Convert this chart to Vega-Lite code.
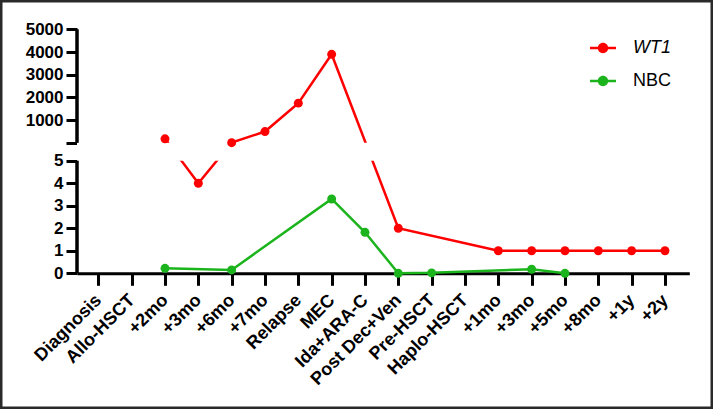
{
  "$schema": "https://vega.github.io/schema/vega-lite/v6.json",
  "width": 713,
  "height": 409,
  "autosize": {"type": "none"},
  "padding": 0,
  "background": "white",
  "config": {
    "view": {"stroke": "#2a2a2a", "strokeWidth": 5},
    "font": "Liberation Sans",
    "axis": {"grid": false}
  },
  "data": {
    "values": [
      {"series": "WT1", "i": 3, "timepoint": "+2mo", "v": 180},
      {"series": "WT1", "i": 4, "timepoint": "+3mo", "v": 4},
      {"series": "WT1", "i": 5, "timepoint": "+6mo", "v": 10},
      {"series": "WT1", "i": 6, "timepoint": "+7mo", "v": 500},
      {"series": "WT1", "i": 7, "timepoint": "Relapse", "v": 1750},
      {"series": "WT1", "i": 8, "timepoint": "MEC", "v": 3900},
      {"series": "WT1", "i": 10, "timepoint": "Post Dec+Ven", "v": 2},
      {"series": "WT1", "i": 13, "timepoint": "+1mo", "v": 1},
      {"series": "WT1", "i": 14, "timepoint": "+3mo", "v": 1},
      {"series": "WT1", "i": 15, "timepoint": "+5mo", "v": 1},
      {"series": "WT1", "i": 16, "timepoint": "+8mo", "v": 1},
      {"series": "WT1", "i": 17, "timepoint": "+1y", "v": 1},
      {"series": "WT1", "i": 18, "timepoint": "+2y", "v": 1},
      {"series": "NBC", "i": 3, "timepoint": "+2mo", "v": 0.22},
      {"series": "NBC", "i": 5, "timepoint": "+6mo", "v": 0.15},
      {"series": "NBC", "i": 8, "timepoint": "MEC", "v": 3.3},
      {"series": "NBC", "i": 9, "timepoint": "Ida+ARA-C", "v": 1.82},
      {"series": "NBC", "i": 10, "timepoint": "Post Dec+Ven", "v": 0},
      {"series": "NBC", "i": 11, "timepoint": "Pre-HSCT", "v": 0.02},
      {"series": "NBC", "i": 14, "timepoint": "+3mo", "v": 0.18},
      {"series": "NBC", "i": 15, "timepoint": "+5mo", "v": 0}
    ]
  },
  "layer": [
    {
      "mark": {"type": "line", "strokeWidth": 2.5},
      "encoding": {
        "x": {
          "field": "i",
          "type": "quantitative",
          "scale": {"domain": [0.36, 18.73], "range": [77, 689.3], "nice": false, "zero": false},
          "axis": {
            "title": null,
            "offset": -135.7,
            "values": [1, 2, 3, 4, 5, 6, 7, 8, 9, 10, 11, 12, 13, 14, 15, 16, 17, 18],
            "tickCount": 100,
            "labelExpr": "['Diagnosis','Allo-HSCT','+2mo','+3mo','+6mo','+7mo','Relapse','MEC','Ida+ARA-C','Post Dec+Ven','Pre-HSCT','Haplo-HSCT','+1mo','+3mo','+5mo','+8mo','+1y','+2y'][datum.value - 1]",
            "labelAngle": -45,
            "labelAlign": "right",
            "labelBaseline": "middle",
            "labelOverlap": false,
            "labelFlush": false,
            "labelBound": false,
            "labelFontSize": 18,
            "labelFontWeight": "bold",
            "labelColor": "black",
            "labelPadding": 12,
            "tickSize": 12,
            "tickWidth": 3,
            "tickColor": "black",
            "domainWidth": 3,
            "domainColor": "black"
          }
        },
        "y": {
          "field": "v",
          "type": "quantitative",
          "scale": {"domain": [0, 5, 5.01, 5000], "range": [273.3, 160.7, 142.8, 29.3], "nice": false, "zero": false},
          "axis": {
            "title": null,
            "offset": -77,
            "domain": false,
            "values": [0, 1, 2, 3, 4, 5, 5.01, 1000, 2000, 3000, 4000, 5000],
            "tickCount": 100,
            "labelExpr": "datum.value > 5 && datum.value < 6 ? '' : format(datum.value, 'd')",
            "labelOverlap": false,
            "labelFlush": false,
            "labelBound": false,
            "labelFontSize": 17,
            "labelFontWeight": "bold",
            "labelColor": "black",
            "labelPadding": 3,
            "tickSize": 11,
            "tickWidth": 3,
            "tickColor": "black"
          }
        },
        "stroke": {
          "field": "series",
          "type": "nominal",
          "scale": {"domain": ["NBC", "WT1"], "range": ["#1cb41c", "#ff0000"]},
          "legend": null
        }
      }
    },
    {
      "data": {"values": [{}]},
      "mark": {"type": "rect", "fill": "white"},
      "encoding": {
        "x": {"datum": 0.36, "type": "quantitative"},
        "x2": {"datum": 18.73},
        "y": {"datum": 5, "type": "quantitative"},
        "y2": {"datum": 5.01}
      }
    },
    {
      "mark": {"type": "point", "filled": true, "size": 80, "opacity": 1, "shape": "circle"},
      "encoding": {
        "x": {"field": "i", "type": "quantitative"},
        "y": {"field": "v", "type": "quantitative"},
        "color": {
          "field": "series",
          "type": "nominal",
          "scale": {"domain": ["WT1", "NBC"], "range": ["#ff0000", "#1cb41c"]},
          "legend": {
            "title": null,
            "orient": "none",
            "legendX": 590,
            "legendY": 35,
            "padding": 0,
            "symbolType": "M-1,-0.1L1,-0.1L1,0.1L-1,0.1Z M0.4,0A0.4,0.4 0 1,1 -0.4,0A0.4,0.4 0 1,1 0.4,0Z",
            "symbolSize": 676,
            "symbolStrokeWidth": 0,
            "symbolOpacity": 1,
            "labelFontSize": 18,
            "labelFont": "Liberation Sans",
            "labelFontStyle": {"expr": "datum.value === 'WT1' ? 'italic' : 'normal'"},
            "labelColor": "black",
            "labelOffset": 17,
            "rowPadding": 11
          }
        }
      }
    },
    {
      "data": {"values": [{}]},
      "mark": {"type": "rule", "strokeWidth": 3.5, "color": "black"},
      "encoding": {
        "x": {"datum": 0.36, "type": "quantitative"},
        "y": {"datum": 0, "type": "quantitative"},
        "y2": {"datum": 5}
      }
    },
    {
      "data": {"values": [{}]},
      "mark": {"type": "rule", "strokeWidth": 3.5, "color": "black"},
      "encoding": {
        "x": {"datum": 0.36, "type": "quantitative"},
        "y": {"datum": 5.01, "type": "quantitative"},
        "y2": {"datum": 5000}
      }
    }
  ]
}
